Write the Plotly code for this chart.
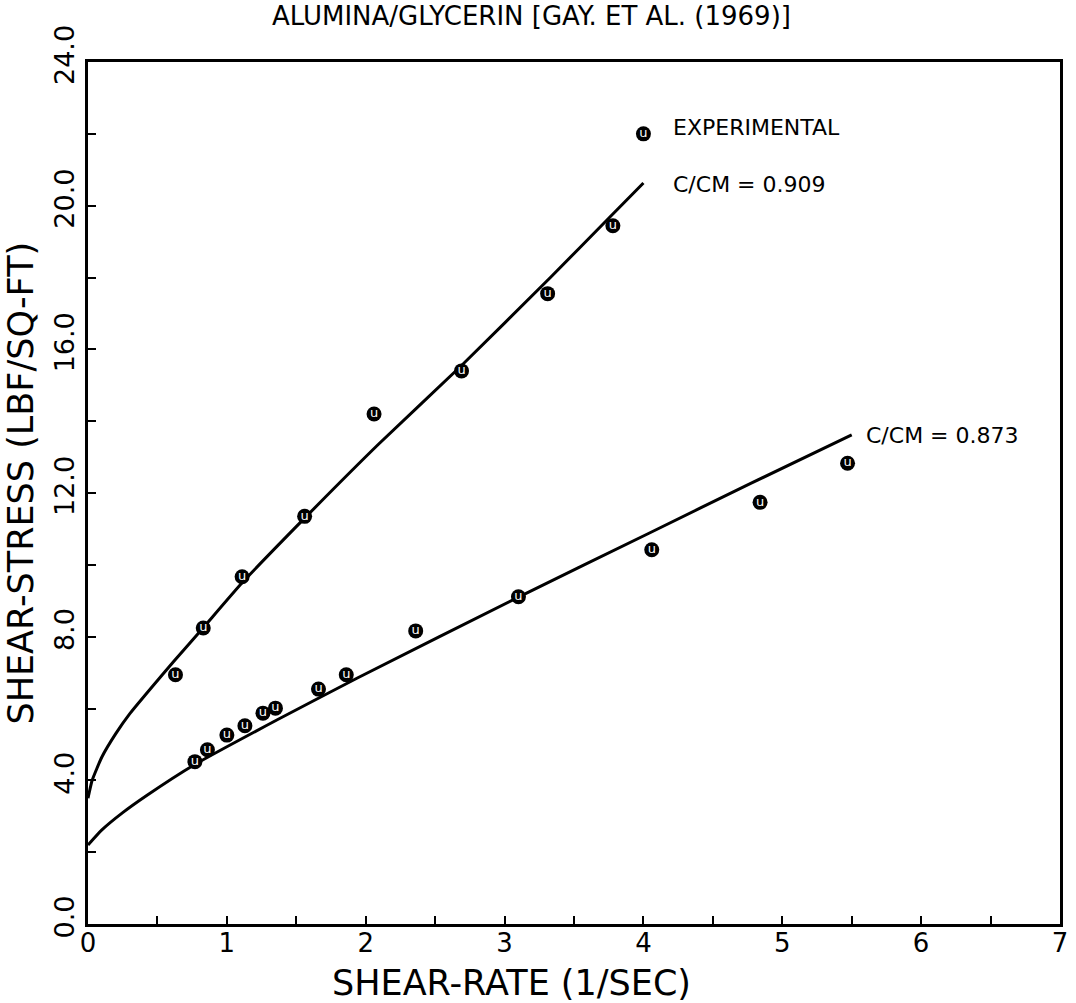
import plotly.graph_objects as go

# ---- data ----
exp_909_x = [0.63, 0.83, 1.11, 1.56, 2.06, 2.69, 3.31, 3.78]
exp_909_y = [6.94, 8.24, 9.67, 11.35, 14.20, 15.40, 17.55, 19.44]

exp_873_x = [0.77, 0.86, 1.00, 1.13, 1.26, 1.35, 1.66, 1.86, 2.36, 3.10, 4.06, 4.84, 5.47]
exp_873_y = [4.52, 4.85, 5.26, 5.52, 5.87, 6.01, 6.54, 6.94, 8.16, 9.11, 10.42, 11.74, 12.83]

fit_909_x = [0.0, 0.03, 0.10, 0.20, 0.30, 0.45, 0.62, 0.83, 1.11, 1.56, 2.09, 2.69, 3.33, 3.75, 4.0]
fit_909_y = [3.5, 4.0, 4.65, 5.3, 5.85, 6.55, 7.32, 8.25, 9.5, 11.3, 13.35, 15.55, 18.0, 19.65, 20.63]

fit_873_x = [0.0, 0.1, 0.25, 0.42, 0.76, 1.37, 1.94, 3.10, 4.04, 4.78, 5.5]
fit_873_y = [2.2, 2.62, 3.1, 3.57, 4.42, 5.7, 6.85, 9.1, 10.88, 12.28, 13.62]

legend_marker_x = [4.0]
legend_marker_y = [22.0]

x_tickvals = [i * 0.5 for i in range(15)]
x_ticktext = ["0", "", "1", "", "2", "", "3", "", "4", "", "5", "", "6", "", "7"]
y_tickvals = [i * 2 for i in range(13)]
y_ticktext = ["0.0", "", "4.0", "", "8.0", "", "12.0", "", "16.0", "", "20.0", "", "24.0"]

FONT = "DejaVu Sans"

fig = go.Figure()

for fx, fy in [(fit_909_x, fit_909_y), (fit_873_x, fit_873_y)]:
    fig.add_trace(go.Scatter(x=fx, y=fy, mode="lines",
                             line=dict(color="black", width=3, shape="spline", smoothing=0.5),
                             hoverinfo="skip", showlegend=False))

for ex, ey in [(exp_909_x, exp_909_y), (exp_873_x, exp_873_y), (legend_marker_x, legend_marker_y)]:
    fig.add_trace(go.Scatter(x=ex, y=ey, mode="markers+text",
                             marker=dict(symbol="circle", size=15, color="black",
                                         line=dict(color="black", width=0)),
                             text=["u"] * len(ex), textposition="middle center",
                             textfont=dict(color="white", size=13, family=FONT),
                             showlegend=False))

annotations = [
    dict(text="ALUMINA/GLYCERIN [GAY. ET AL. (1969)]", xref="paper", yref="paper",
         x=0.456, y=1.0528, xanchor="center", yanchor="middle", showarrow=False,
         font=dict(size=26, family=FONT, color="black")),
    dict(text="SHEAR-RATE (1/SEC)", xref="paper", yref="paper",
         x=0.436, y=-0.0684, xanchor="center", yanchor="middle", showarrow=False,
         font=dict(size=35, family=FONT, color="black")),
    dict(text="SHEAR-STRESS (LBF/SQ-FT)", xref="paper", yref="paper",
         x=-0.0694, y=0.5116, xanchor="center", yanchor="middle", showarrow=False,
         textangle=-90, font=dict(size=35, family=FONT, color="black")),
    dict(text="EXPERIMENTAL", x=4.195, y=22.19, xanchor="left", yanchor="middle",
         showarrow=False, font=dict(size=22, family=FONT, color="black")),
    dict(text="C/CM = 0.909", x=4.195, y=20.6, xanchor="left", yanchor="middle",
         showarrow=False, font=dict(size=22, family=FONT, color="black")),
    dict(text="C/CM = 0.873", x=5.59, y=13.6, xanchor="left", yanchor="middle",
         showarrow=False, font=dict(size=22, family=FONT, color="black")),
]

fig.update_layout(
    width=1076, height=1003,
    margin=dict(l=88, r=8, t=62, b=79),
    paper_bgcolor="white", plot_bgcolor="white",
    showlegend=False,
    annotations=annotations,
    font=dict(family=FONT, color="black"),
)

fig.update_xaxes(range=[0, 7], tickvals=x_tickvals, ticktext=x_ticktext,
                 ticks="inside", ticklen=8, tickwidth=2, tickcolor="black",
                 showline=True, linecolor="black", linewidth=3, mirror=True,
                 showgrid=False, zeroline=False, ticklabelstandoff=-6,
                 tickfont=dict(size=26, family=FONT, color="black"))
fig.update_yaxes(range=[0, 24], tickvals=y_tickvals, ticktext=y_ticktext,
                 ticks="inside", ticklen=8, tickwidth=2, tickcolor="black",
                 showline=True, linecolor="black", linewidth=3, mirror=True,
                 showgrid=False, zeroline=False, tickangle=-90, ticklabelshift=-3,
                 tickfont=dict(size=27, family=FONT, color="black"))

fig.write_html("out.html")
